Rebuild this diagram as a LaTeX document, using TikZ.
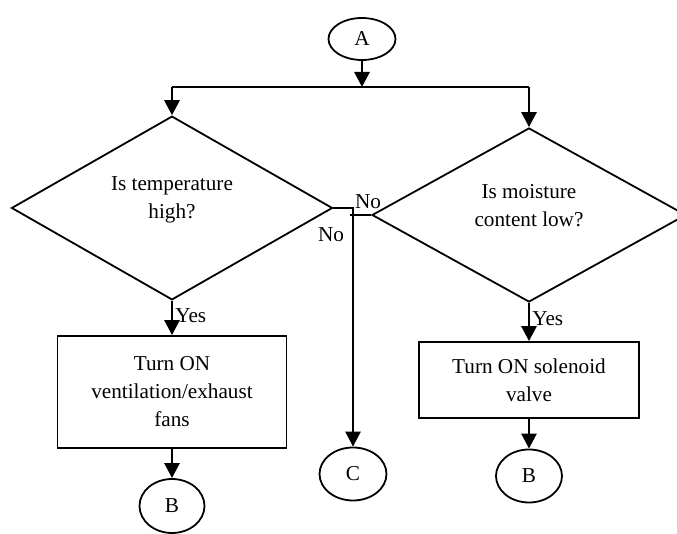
\documentclass[tikz,border=0pt]{standalone}
\usepackage{fontspec}
\setmainfont{Liberation Serif}
\usetikzlibrary{shapes.geometric,arrows.meta}

\tikzset{
	conn/.style={line width=1.4pt,-{Triangle[length=7.5pt,width=7.5pt]}},
	wire/.style={line width=1.4pt},
	decision/.style={draw,diamond,line width=0.9pt,inner sep=0pt,align=center,text depth=10pt},
	process/.style={draw,rectangle,line width=0.9pt,inner sep=0pt,align=center},
	term/.style={draw,ellipse,line width=0.9pt,inner sep=0pt},
}

\begin{document}
\begin{tikzpicture}[x=0.5pt,y=-0.5pt,font=\fontsize{10.6}{14}\selectfont]

\useasboundingbox (0,0) rectangle (677,534);

% Start point:
\node[term,minimum width=33.5pt,minimum height=21pt] (A) at (362,39) {A};

% Decisions:
\node[decision,minimum width=160.5pt,minimum height=88.5pt] (temp) at (172,208) {Is temperature\\high?};
\node[decision,minimum width=157pt,minimum height=87pt] (moist) at (529,215) {Is moisture\\content low?};

% Actions:
\node[process,minimum width=114.5pt,minimum height=56pt] (fans) at (172,392) {Turn ON\\ventilation/exhaust\\fans};
\node[process,minimum width=110pt,minimum height=38pt] (valve) at (529,380) {Turn ON solenoid\\valve};

% Exits:
\node[term,minimum width=32.5pt,minimum height=27pt] (B1) at (172,506) {B};
\node[term,minimum width=33.5pt,minimum height=26.5pt] (C) at (353,474) {C};
\node[term,minimum width=33pt,minimum height=26.5pt] (B2) at (529,476) {B};

% Split below A:
\coordinate (split) at (362,87);
\coordinate (splitL) at (172,87);
\coordinate (splitR) at (529,87);

\draw[conn] (A) -- (split);
\draw[wire] (splitL) -- (splitR);
\draw[conn] (splitL) -- (temp.north);
\draw[conn] (splitR) -- (moist.north);

% Yes branches:
\draw[conn] (temp.south) -- node[pos=0.42,right,inner sep=1pt] {Yes} (fans.north);
\draw[conn] (moist.south) -- node[pos=0.42,right,inner sep=1pt] {Yes} (valve.north);
\draw[conn] (fans.south) -- (B1.north);
\draw[conn] (valve.south) -- (B2.north);

% No branches:
\coordinate (noL) at (353,208);
\coordinate (noR) at (350,215);

\draw[conn] (temp.east) -- (noL) -- (C.north);
\draw[wire] (moist.west) -- (noR);
\node (noTop) at (368,202) {No};
\node (noLow) at (331,235) {No};

\end{tikzpicture}
\end{document}
